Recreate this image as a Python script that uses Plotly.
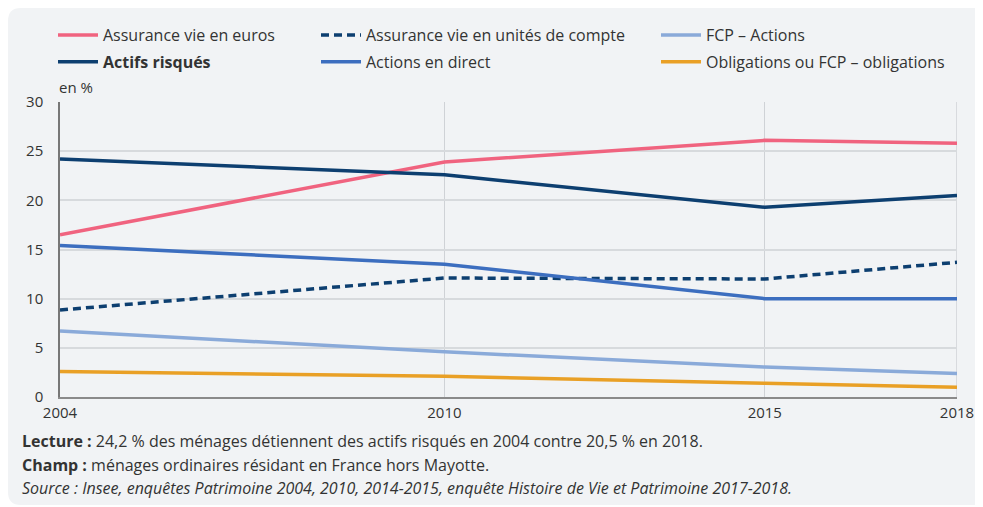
import plotly.graph_objects as go

years = [2004, 2010, 2015, 2018]
assurance_euros = [16.5, 23.9, 26.1, 25.8]
assurance_uc = [8.85, 12.1, 12.0, 13.7]
fcp_actions = [6.7, 4.6, 3.05, 2.4]
actifs_risques = [24.2, 22.6, 19.3, 20.5]
actions_direct = [15.4, 13.5, 10.0, 10.0]
obligations = [2.6, 2.1, 1.4, 1.0]
y_ticks = [0, 5, 10, 15, 20, 25, 30]

# page body has an 8px margin: figure coords = screen coords - 8
OFF = 8
W, H = 983 - OFF, 507 - OFF
L, R, T, B = 60 - OFF, 983 - 957, 102 - OFF, 507 - 397
PW, PH = W - L - R, H - T - B

def px2x(px):
    return (px - OFF - L) / PW

def py2y(py):
    return (H - B - (py - OFF)) / PH

def cx(px):
    return (px - OFF) / W

def cy(py):
    return 1 - (py - OFF) / H

FONT = "Open Sans"
TXT = "#333333"

fig = go.Figure()

series = [
    ("Assurance vie en euros", assurance_euros, "#f0637f", "solid", "legend"),
    ("<b>Actifs risqués</b>", actifs_risques, "#0d3f70", "solid", "legend"),
    ("Assurance vie en unités de compte", assurance_uc, "#0d3f70", "8px,5px", "legend2"),
    ("Actions en direct", actions_direct, "#3c6ebf", "solid", "legend2"),
    ("FCP – Actions", fcp_actions, "#8aaad9", "solid", "legend3"),
    ("Obligations ou FCP – obligations", obligations, "#e9a026", "solid", "legend3"),
]
for i, s in enumerate(series):
    fig.add_trace(go.Scatter(
        x=years, y=s[1], name=s[0], mode="lines",
        line=dict(color=s[2], width=3.5, dash=s[3]),
        legend=s[4], legendgroup=f"g{i}", cliponaxis=False,
    ))

# rounded card background (screen coords)
def rounded_path(x0, y0, x1, y1, r):
    def P(px, py):
        return f"{px2x(px):.5f},{py2y(py):.5f}"
    return (f"M {P(x0+r, y0)} L {P(x1-r, y0)} Q {P(x1, y0)} {P(x1, y0+r)} "
            f"L {P(x1, y1-r)} Q {P(x1, y1)} {P(x1-r, y1)} L {P(x0+r, y1)} "
            f"Q {P(x0, y1)} {P(x0, y1-r)} L {P(x0, y0+r)} Q {P(x0, y0)} {P(x0+r, y0)} Z")

fig.add_shape(type="path", xref="paper", yref="paper",
              path=rounded_path(8, 8, 995, 505, 13),
              fillcolor="#f1f3f5", line=dict(width=0), layer="below")

leg_common = dict(orientation="v", yanchor="top", xanchor="left",
                  xref="container", yref="container",
                  bgcolor="rgba(0,0,0,0)", font=dict(family=FONT, size=16, color=TXT),
                  tracegroupgap=3, itemwidth=40, traceorder="grouped")
ly = cy(18)
fig.update_layout(
    width=W, height=H,
    margin=dict(l=L, r=R, t=T, b=B, autoexpand=False),
    paper_bgcolor="white",
    plot_bgcolor="rgba(0,0,0,0)",
    font=dict(family=FONT, size=15, color=TXT),
    legend=dict(x=cx(53), y=ly, **leg_common),
    legend2=dict(x=cx(316), y=ly, **leg_common),
    legend3=dict(x=cx(656), y=ly, **leg_common),
    xaxis=dict(range=[2004, 2018], tickvals=years, ticktext=[str(y) for y in years],
               showgrid=True, gridcolor="#cfd2d6", gridwidth=1,
               showline=True, linecolor="#8a8a8a", linewidth=2,
               zeroline=False, ticks="", tickfont=dict(family=FONT, size=15, color=TXT),
               ticklabelstandoff=1),
    yaxis=dict(range=[0, 30], tickvals=y_ticks, showgrid=True, gridcolor="#d7dadd", gridwidth=1.5,
               showline=True, linecolor="#777777", linewidth=1.5, zeroline=False,
               ticks="", tickfont=dict(family=FONT, size=15, color=TXT), ticklabelstandoff=12),
)

fig.add_shape(type="line", xref="x", yref="paper", x0=2018, x1=2018, y0=0, y1=1,
              line=dict(color="#cfd2d6", width=1.5), layer="below")

anns = [
    dict(x=px2x(57), y=py2y(87), text="en %", size=15),
    dict(x=px2x(20), y=py2y(441), text="<b>Lecture :</b> 24,2 % des ménages détiennent des actifs risqués en 2004 contre 20,5 % en 2018.", size=16),
    dict(x=px2x(20), y=py2y(465), text="<b>Champ :</b> ménages ordinaires résidant en France hors Mayotte.", size=16),
    dict(x=px2x(20), y=py2y(488), text="<i>Source : Insee, enquêtes Patrimoine 2004, 2010, 2014-2015, enquête Histoire de Vie et Patrimoine 2017-2018.</i>", size=16),
]
for a in anns:
    fig.add_annotation(x=a["x"], y=a["y"], xref="paper", yref="paper", text=a["text"],
                       showarrow=False, xanchor="left", yanchor="middle",
                       font=dict(family=FONT, size=a["size"], color=TXT))

fig.write_html("out.html")
